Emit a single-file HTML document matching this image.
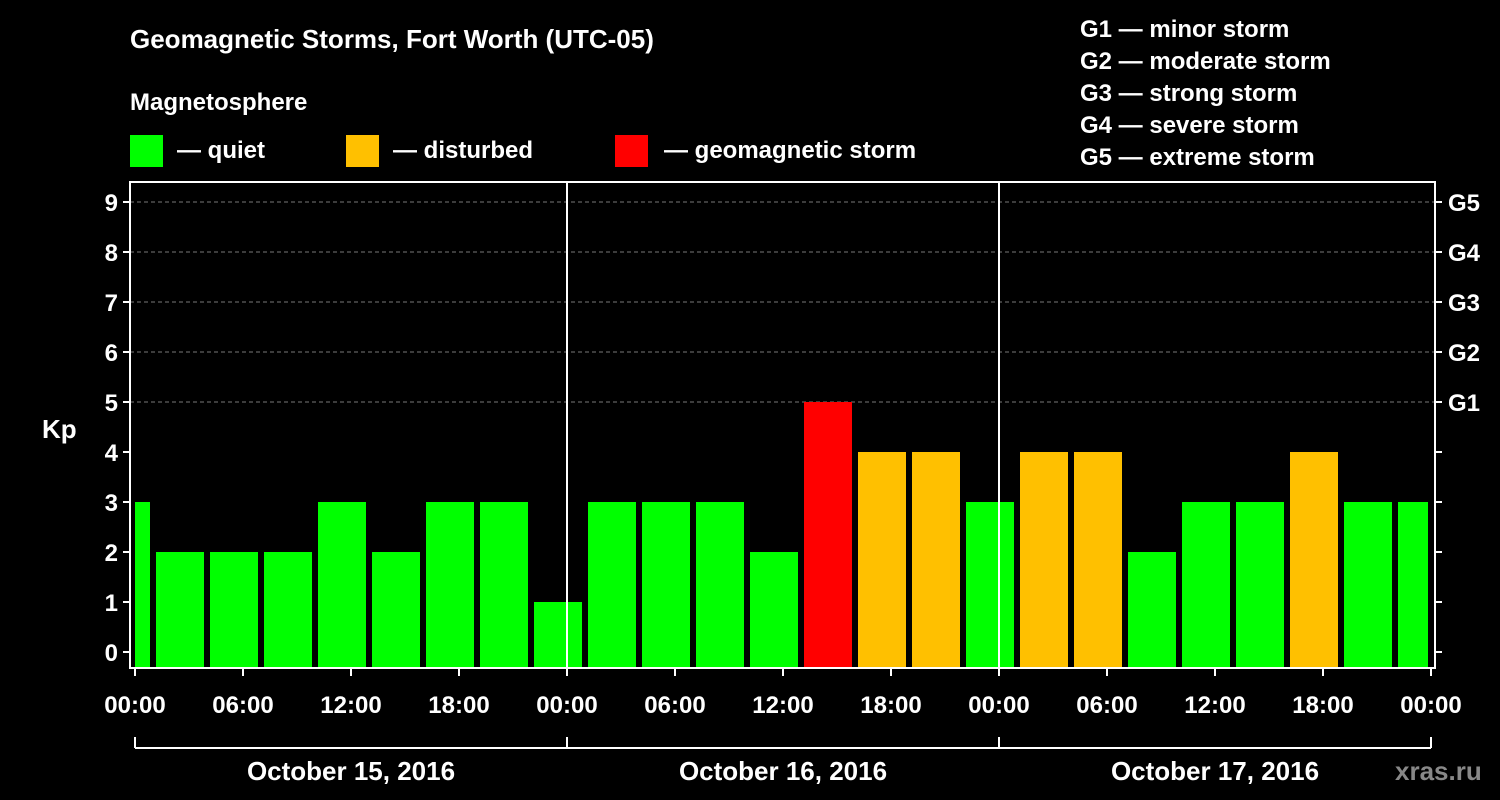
<!DOCTYPE html>
<html><head><meta charset="utf-8"><style>
html,body{margin:0;padding:0;background:#000;}
svg{display:block;font-family:"Liberation Sans",Arial,sans-serif;font-weight:bold;}
</style></head><body>
<svg id="chart" width="1500" height="800" xmlns="http://www.w3.org/2000/svg">
<rect x="0" y="0" width="1500" height="800" fill="#000"/>
<text x="130" y="48" fill="#fff" font-size="26">Geomagnetic Storms, Fort Worth (UTC-05)</text>
<text x="130" y="110" fill="#fff" font-size="24">Magnetosphere</text>
<g><rect x="130" y="135" width="33" height="32" fill="#00ff00"/><text x="177" y="158" fill="#fff" font-size="24">— quiet</text></g>
<g><rect x="346" y="135" width="33" height="32" fill="#ffc000"/><text x="393" y="158" fill="#fff" font-size="24">— disturbed</text></g>
<g><rect x="615" y="135" width="33" height="32" fill="#ff0000"/><text x="664" y="158" fill="#fff" font-size="24">— geomagnetic storm</text></g>
<g fill="#fff" font-size="24">
<text x="1080" y="37">G1 — minor storm</text>
<text x="1080" y="69">G2 — moderate storm</text>
<text x="1080" y="101">G3 — strong storm</text>
<text x="1080" y="133">G4 — severe storm</text>
<text x="1080" y="165">G5 — extreme storm</text>
</g>
<text x="42" y="438" fill="#fff" font-size="26">Kp</text>
<g id="grid"></g>
<g id="bars"></g>
<g id="axes"></g>
<text x="1395" y="780" fill="#888" font-size="26">xras.ru</text>
</svg>
<script>
const kpValues=[3,2,2,2,3,2,3,3,1, 3,3,3,2,5,4,4,3, 4,4,2,3,3,4,3,3];
const barStartHours=[-2,1,4,7,10,13,16,19,22,25,28,31,34,37,40,43,46,49,52,55,58,61,64,67,70];
const yTicks=[0,1,2,3,4,5,6,7,8,9];
const gLabels=["G1","G2","G3","G4","G5"];
const xTickLabels=["00:00","06:00","12:00","18:00","00:00","06:00","12:00","18:00","00:00","06:00","12:00","18:00","00:00"];
const dayLabels=["October 15, 2016","October 16, 2016","October 17, 2016"];
const NS="http://www.w3.org/2000/svg";
const X0=135,PX_H=18,PL=130,PR=1435,PT=182,PB=668;
const xs=h=>X0+h*PX_H;
const ys=v=>652-v*50;
function mk(tag,attrs,parent,text){const e=document.createElementNS(NS,tag);for(const k in attrs)e.setAttribute(k,attrs[k]);if(text!==undefined)e.textContent=text;parent.appendChild(e);return e;}
const grid=document.getElementById('grid'),bars=document.getElementById('bars'),axes=document.getElementById('axes');
yTicks.forEach(v=>{
 if(v>=5){const l=mk('line',{x1:PL,x2:PR,y1:ys(v),y2:ys(v),stroke:'#777','stroke-dasharray':'4,3','stroke-width':1},grid);
 
 }
});
kpValues.forEach((v,i)=>{
 let x1=Math.max(xs(barStartHours[i])+3,X0),x2=Math.min(xs(barStartHours[i]+3)-3,1428);
 const c=v>=5?'#ff0000':(v>=4?'#ffc000':'#00ff00');
 const r=mk('rect',{x:x1,y:ys(v),width:x2-x1,height:PB-ys(v),fill:c},bars);
 
 
});
const frame=mk('rect',{x:PL,y:PT,width:PR-PL,height:PB-PT,fill:'none',stroke:'#fff','stroke-width':2},axes);


[24,48].forEach(h=>{const l=mk('line',{x1:xs(h),x2:xs(h),y1:PT,y2:PB,stroke:'#fff','stroke-width':2},axes);
 
 });
yTicks.forEach(v=>{
 mk('line',{x1:PL-7,x2:PL,y1:ys(v),y2:ys(v),stroke:'#fff','stroke-width':2},axes);
 mk('line',{x1:PR,x2:PR+7,y1:ys(v),y2:ys(v),stroke:'#fff','stroke-width':2},axes);
 const t=mk('text',{x:PL-12,y:ys(v)+9,fill:'#fff','font-size':24,'text-anchor':'end'},axes,String(v));
 
 
 if(v>=5){const g=mk('text',{x:1448,y:ys(v)+9,fill:'#fff','font-size':24},axes,gLabels[v-5]);
 
 }
});
xTickLabels.forEach((s,i)=>{
 const x=xs(i*6);
 mk('line',{x1:x,x2:x,y1:PB,y2:PB+8,stroke:'#fff','stroke-width':2},axes);
 const t=mk('text',{x:x,y:713,fill:'#fff','font-size':24,'text-anchor':'middle'},axes,s);
 
 
});
mk('line',{x1:xs(0),x2:xs(72),y1:748,y2:748,stroke:'#fff','stroke-width':2},axes);
[0,24,48,72].forEach(h=>mk('line',{x1:xs(h),x2:xs(h),y1:737,y2:748,stroke:'#fff','stroke-width':2},axes));
dayLabels.forEach((s,i)=>{
 const t=mk('text',{x:xs(i*24+12),y:780,fill:'#fff','font-size':26,'text-anchor':'middle'},axes,s);
 
 
});
</script>
</body></html>
